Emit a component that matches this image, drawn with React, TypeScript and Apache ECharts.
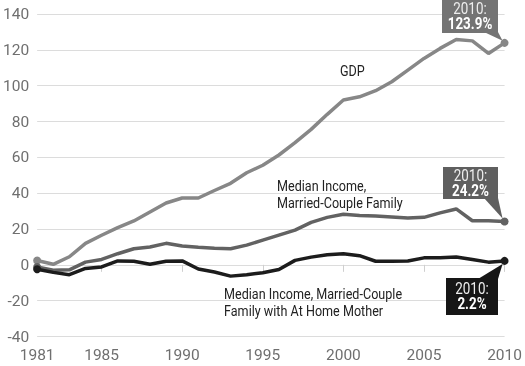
import React, { useEffect, useRef } from "react";
import * as echarts from "echarts";

const years = Array.from({ length: 30 }, (_, i) => String(1981 + i));
const shownYears = ["1981", "1985", "1990", "1995", "2000", "2005", "2010"];
const yTicks = { min: -40, max: 140, interval: 20 };

const gdp = [2.4, 0.3, 4.5, 12, 16.5, 20.8, 24.5, 29.5, 34.5, 37.3, 37.3, 41.5, 45.5, 51.4, 55.6, 61.3, 68.2, 75.6, 84, 92, 93.8, 97.2, 102.2, 108.7, 115.2, 120.8, 125.8, 125, 118, 123.9];
const married = [-1.2, -3.0, -2.8, 1.5, 3.0, 6.2, 9.0, 10.0, 12.0, 10.5, 9.8, 9.2, 9.0, 11.0, 13.8, 16.6, 19.4, 23.7, 26.5, 28.2, 27.5, 27.2, 26.7, 26.2, 26.5, 29.0, 31.2, 24.6, 24.6, 24.2];
const homeMother = [-2.5, -4.2, -5.5, -2, -1.2, 2.2, 2.0, 0.3, 2.0, 2.2, -2.3, -4, -6.3, -5.5, -4.4, -2.6, 2.5, 4.3, 5.6, 6.2, 5.1, 2.0, 2.0, 2.1, 3.9, 3.9, 4.4, 3.0, 1.5, 2.2];

const seriesNames = ["GDP", "Median Income, Married-Couple Family", "Median Income, Married-Couple Family with At Home Mother"];
const calloutValues = ["123.9%", "24.2%", "2.2%"];

const FONT = "Roboto, 'Liberation Sans', sans-serif";
const COLORS = ["#878787", "#626262", "#1c1c1c"];
const BOX = ["#747474", "#5f5f5f", "#161616"];
const SQ = 0.84;

export default function App() {
  const ref = useRef<HTMLDivElement>(null);
  useEffect(() => {
    if (!ref.current) return;
    const chart = echarts.init(ref.current, null, { renderer: "svg" });
    const last = years.length - 1;
    const mk = (name: string, data: number[], i: number) => ({
      name,
      type: "line",
      data,
      symbol: "circle",
      showAllSymbol: true,
      symbolSize: (_v: any, p: any) => (p.dataIndex === 0 || p.dataIndex === last ? 8 : 0),
      lineStyle: { color: COLORS[i], width: 3.5 },
      itemStyle: { color: COLORS[i], borderWidth: 0 },
      z: 2 + i,
    });
    chart.setOption({
      animation: false,
      grid: { left: 36, right: 19, top: 14, bottom: 29.5 },
      xAxis: {
        type: "category",
        data: years,
        boundaryGap: false,
        axisLine: { show: false },
        axisTick: {
          show: true,
          length: 7,
          interval: (_i: number, v: string) => shownYears.includes(v),
          lineStyle: { color: "#cfcfcf" },
        },
        axisLabel: {
          interval: (_i: number, v: string) => shownYears.includes(v),
          color: "#6f6f6f",
          fontSize: 15.5,
          fontFamily: FONT,
          margin: 10,
        },
        splitLine: { show: false },
      },
      yAxis: {
        type: "value",
        min: yTicks.min,
        max: yTicks.max,
        interval: yTicks.interval,
        axisLine: { show: false },
        axisTick: { show: false },
        axisLabel: { color: "#6f6f6f", fontSize: 15.5, fontFamily: FONT, margin: 8 },
        splitLine: { lineStyle: { color: "#dcdcdc", width: 1 } },
      },
      series: [mk(seriesNames[0], gdp, 0), mk(seriesNames[1], married, 1), mk(seriesNames[2], homeMother, 2)],
    });

    const tip = (s: number, v: number) => chart.convertToPixel({ seriesIndex: s }, [last, v]) as number[];
    const t0 = tip(0, gdp[last]);
    const t1 = tip(1, married[last]);
    const t2 = tip(2, homeMother[last]);

    const sq = (x: number, y: number, text: string, font: string, fill: string, align: string, vAlign: string, lineHeight?: number) => ({
      type: "text",
      x,
      y,
      scaleX: SQ,
      style: { x: 0, y: 0, text, fill, font, align, verticalAlign: vAlign, lineHeight },
    });

    const box = (x: number, y: number, w: number, h: number, color: string, value: string, tail: number[][]) => ({
      type: "group",
      children: [
        { type: "polygon", shape: { points: tail }, style: { fill: color } },
        { type: "rect", shape: { x, y, width: w, height: h }, style: { fill: color } },
        sq(x + w / 2, y + h / 2 - 7.5, "2010:", `16px ${FONT}`, "#eeeeee", "center", "middle"),
        sq(x + w / 2, y + h / 2 + 7.5, value, `bold 16px ${FONT}`, "#ffffff", "center", "middle"),
      ],
    });

    const label = (x: number, y: number, text: string) => sq(x, y, text, `15px ${FONT}`, "#222222", "left", "top", 17);

    chart.setOption({
      graphic: [
        box(442, 0, 56, 33, BOX[0], calloutValues[0], [[484, 32], [498, 32], [t0[0] - 2, t0[1] - 2]]),
        box(443, 167, 55, 32, BOX[1], calloutValues[1], [[484, 198], [498, 198], [t1[0] - 2, t1[1] - 3]]),
        box(446, 278, 52, 37, BOX[2], calloutValues[2], [[478, 279], [498, 279], [t2[0] - 2, t2[1] + 3]]),
        label(340, 62, "GDP"),
        label(277, 177, "Median Income,\nMarried-Couple Family"),
        label(224, 285, "Median Income, Married-Couple\nFamily with At Home Mother"),
      ],
    });
    return () => chart.dispose();
  }, []);
  return <div ref={ref} style={{ position: "fixed", left: 0, top: 0, width: 525, height: 366 }} />;
}
